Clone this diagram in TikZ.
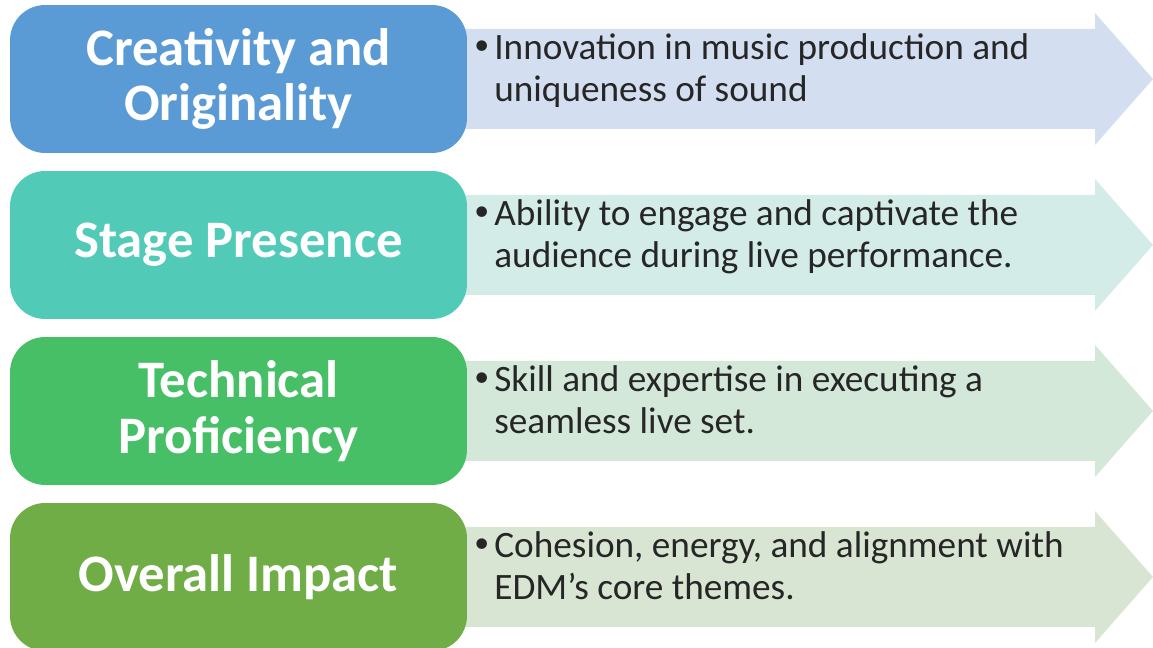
\documentclass[tikz,border=0pt]{standalone}
\usepackage{fontspec}
\setmainfont{Carlito}
\usetikzlibrary{positioning}

\definecolor{boxone}{HTML}{5B9BD5}
\definecolor{boxtwo}{HTML}{52CAB8}
\definecolor{boxthree}{HTML}{47BF67}
\definecolor{boxfour}{HTML}{70AD47}
\definecolor{arrone}{HTML}{D3DEF0}
\definecolor{arrtwo}{HTML}{D3ECE8}
\definecolor{arrthree}{HTML}{D4E8DA}
\definecolor{arrfour}{HTML}{D8E5D2}
\definecolor{desctext}{HTML}{262626}

\tikzset{
  titlebox/.style={rounded corners=20pt, minimum width=9.14cm, minimum height=2.96cm,
    text=white, font=\fontsize{30}{31.5}\selectfont\bfseries, align=center, inner sep=0pt},
  desc/.style={text=desctext, font=\fontsize{21.2}{24.2}\selectfont, align=left, inner sep=0pt},
}

\begin{document}
\begin{tikzpicture}[x=0.02cm, y=0.02cm]
      \useasboundingbox (0,0) rectangle (1153,648);
      \foreach \i/\yc/\bcol/\acol/\ttl/\txt in {
          1/569/boxone/arrone/{Creativity and\\Originality}/{Innovation in music production and\\uniqueness of sound},
          2/403/boxtwo/arrtwo/{Stage Presence}/{Ability to engage and captivate the\\audience during live performance.},
          3/237/boxthree/arrthree/{Technical\\Proficiency}/{Skill and expertise in executing a\\seamless live set.},
          4/71/boxfour/arrfour/{Overall Impact}/{Cohesion, energy, and alignment with\\EDM’s core themes.}}
      {
        % arrow behind the box
        \fill[\acol] (460,\yc+50) -- (1095,\yc+50) -- (1095,\yc+66) -- (1153,\yc)
          -- (1095,\yc-66) -- (1095,\yc-50) -- (460,\yc-50) -- cycle;
        \node[titlebox, fill=\bcol] (title\i) at (238.5,\yc) {\ttl};
        \node[desc, anchor=west, font=\fontsize{17}{17}\selectfont] (bul\i) at (474,\yc+31) {\textbullet};
        \node[desc, anchor=north west] (desc\i) at (494,\yc+46) {\txt};
      }
    \end{tikzpicture}
\end{document}
